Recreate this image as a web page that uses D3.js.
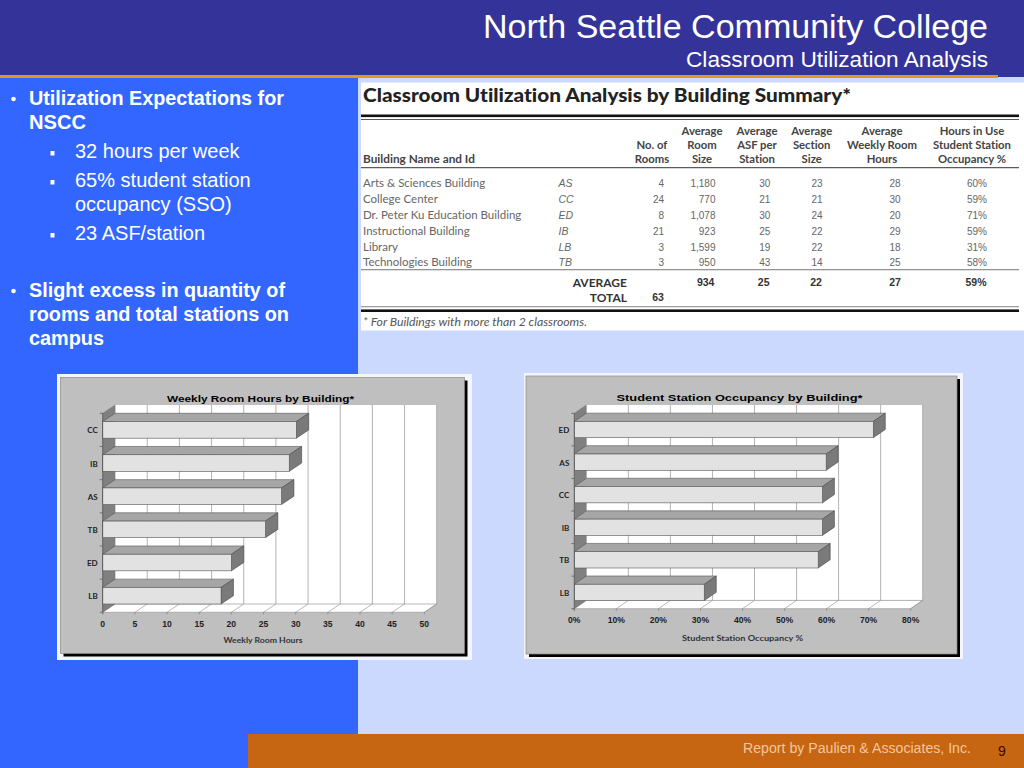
<!DOCTYPE html>
<html>
<head>
<meta charset="utf-8">
<script src="https://cdnjs.cloudflare.com/ajax/libs/d3/7.8.5/d3.min.js"></script>
<style>
html,body{margin:0;padding:0;background:#ccd9ff;overflow:hidden}
svg{display:block}
text{font-family:"Liberation Sans",Arial,sans-serif;font-variant-ligatures:none}
</style>
</head>
<body>
<svg id="c" width="1024" height="768"></svg>
<script>
const hoursCategories = ["CC","IB","AS","TB","ED","LB"];
const hoursValues = [30.1,29,27.8,25.3,20,18.4];
const hoursTicks = [0,5,10,15,20,25,30,35,40,45,50];

const occCategories = ["ED","AS","CC","IB","TB","LB"];
const occValues = [71.1,59.9,59,59,58,30.9];
const occTicks = [0,10,20,30,40,50,60,70,80];

const tableNames = ["Arts & Sciences Building","College Center","Dr. Peter Ku Education Building","Instructional Building","Library","Technologies Building"];
const tableIds = ["AS","CC","ED","IB","LB","TB"];
const tableRooms = ["4","24","8","21","3","3"];
const tableRoomSize = ["1,180","770","1,078","923","1,599","950"];
const tableAsf = ["30","21","30","25","19","43"];
const tableSection = ["23","21","24","22","22","14"];
const tableWeekly = ["28","30","20","29","18","25"];
const tableOcc = ["60%","59%","71%","59%","31%","58%"];
const tableAverages = ["934","25","22","27","59%"];
const tableTotal = "63";

const svg = d3.select("#c");
const rect=(x,y,w,h,f,p=svg)=>p.append("rect").attr("x",x).attr("y",y).attr("width",w).attr("height",h).attr("fill",f);
const txt=(s,x,y,o={},p=svg)=>{
  const t=p.append("text").attr("x",x).attr("y",y).text(s)
    .attr("font-size",o.size||12).attr("fill",o.fill||"#000")
    .attr("font-weight",o.weight||"normal").attr("font-style",o.style||"normal")
    .attr("text-anchor",o.anchor||"start");
  if(o.family) t.style("font-family",o.family);
  if(o.len) t.attr("textLength",o.len).attr("lengthAdjust","spacingAndGlyphs");
  return t;
};

/* page */
rect(0,0,1024,768,"#ccd9ff");
rect(0,0,1024,77,"#333399");
rect(0,75,998,3,"#e8951e");
rect(0,78,358,690,"#3366ff");
rect(248,734,776,34,"#c66512");

txt("North Seattle Community College",988,38,{size:34,fill:"#fff",anchor:"end",len:505});
txt("Classroom Utilization Analysis",988,67,{size:22,fill:"#fff",anchor:"end",len:302});
txt("Report by Paulien & Associates, Inc.",743,753,{size:14,fill:"#f3c79c",len:228});
txt("9",1002,756,{size:14,fill:"#3a0a00",anchor:"middle"});

/* bullets */
const W="#fff";
const boldLines=[["Utilization Expectations for",105,255],["NSCC",129,57],["Slight excess in quantity of",297,256],["rooms and total stations on",321,260],["campus",345,75]];
boldLines.forEach(d=>txt(d[0],29,d[1],{size:20,weight:"bold",fill:W,len:d[2]}));
const subLines=[["32 hours per week",158],["65% student station",187],["occupancy (SSO)",211],["23 ASF/station",240]];
subLines.forEach(d=>txt(d[0],75,d[1],{size:20,fill:W}));
[105,297].forEach(y=>svg.append("circle").attr("cx",13.5).attr("cy",y-6).attr("r",2.3).attr("fill",W));
[158,187,240].forEach(y=>rect(50.5,y-7,4,4.5,W));

/* table */
const serif='Lato,"Noto Sans",sans-serif';
rect(361,82.5,663,248,"#fff");
txt("Classroom Utilization Analysis by Building Summary*",363,102,{size:18,weight:"900",fill:"#222",family:serif,len:488});
const tl=(y,h,c)=>rect(361,y,658,h,c);
tl(114.5,2.6,"#111");tl(119,0.9,"#444");tl(167.2,1,"#333");tl(269.3,0.9,"#666");tl(306.3,0.9,"#777");tl(309.4,2.6,"#111");
const hs={size:11.3,weight:"bold",fill:"#444",family:serif,anchor:"middle"};
[["Average","Room","Size",702],["Average","ASF per","Station",757],["Average","Section","Size",811.7],["Average","Weekly Room","Hours",882],["Hours in Use","Student Station","Occupancy %",972]]
  .forEach(c=>{txt(c[0],c[3],135,hs);txt(c[1],c[3],149,hs);txt(c[2],c[3],162.5,hs);});
txt("No. of",652,149,hs);txt("Rooms",652,162.5,hs);
txt("Building Name and Id",363,162.5,{size:11.8,weight:"bold",fill:"#444",family:serif});
const rowY=[187,203,219,235,251,266];
const grey="#666";
tableNames.forEach((n,i)=>{
  const y=rowY[i];
  txt(n,363,y,{size:11.5,fill:grey,family:serif});
  txt(tableIds[i],558.5,y,{size:10.5,fill:grey,style:"italic"});
  txt(tableRooms[i],664,y,{size:10,fill:grey,anchor:"end"});
  txt(tableRoomSize[i],715.5,y,{size:10,fill:grey,anchor:"end"});
  txt(tableAsf[i],764.7,y,{size:10,fill:grey,anchor:"middle"});
  txt(tableSection[i],817,y,{size:10,fill:grey,anchor:"middle"});
  txt(tableWeekly[i],895,y,{size:10,fill:grey,anchor:"middle"});
  txt(tableOcc[i],977,y,{size:10,fill:grey,anchor:"middle"});
});
const ts={size:12,weight:"bold",fill:"#333",family:serif,anchor:"end"};
txt("AVERAGE",627,286.5,ts);txt("TOTAL",627,301.5,ts);
const bs={size:10.5,weight:"bold",fill:"#333",anchor:"middle"};
txt(tableTotal,658,300.5,bs);
[705.7,763.7,816,895,976].forEach((x,i)=>txt(tableAverages[i],x,286,bs));
txt("* For Buildings with more than 2 classrooms.",363,326,{size:10.8,style:"italic",fill:"#555",family:serif,len:224});

/* 3D bar charts */
function chart(o){
  rect(o.fx,o.fy,o.fw,o.fh,"#f4f6ff");
  rect(o.px+3,o.py+3,o.pw,o.ph,"#000");
  rect(o.px,o.py,o.pw,o.ph,"#bfbfbf").attr("stroke","#8a8a80").attr("stroke-width",0.7);
  txt(o.title,o.tx,o.ty,{size:9,weight:"bold",fill:"#000",anchor:"middle",len:o.tlen});

  const x=d3.scaleLinear().domain(o.domain).range([o.x0,o.x1]);
  const y=d3.scaleBand().domain(o.cats).range([o.yTop,o.yBot]).paddingInner(0.5).paddingOuter(0.25);
  const dx=o.dx,dy=o.dy,g=svg.append("g");
  const poly=(pts,f,s="#555",w=0.6)=>g.append("polygon").attr("points",pts.map(p=>p.join(",")).join(" ")).attr("fill",f).attr("stroke",s).attr("stroke-width",w);

  // back wall, floor, side wall
  rect(o.x0+dx,o.yTop-dy,o.x1-o.x0,o.yBot-o.yTop,"#fff",g);
  poly([[o.x0,o.yBot],[o.x1,o.yBot],[o.x1+dx,o.yBot-dy],[o.x0+dx,o.yBot-dy]],"#fff","#999",0.7);
  o.ticks.forEach(t=>{
    if(t>o.domain[0]) g.append("line").attr("x1",x(t)+dx).attr("x2",x(t)+dx).attr("y1",o.yTop-dy).attr("y2",o.yBot-dy).attr("stroke","#a0a0a0").attr("stroke-width",0.8);
    if(t>o.domain[0]) g.append("line").attr("x1",x(t)).attr("x2",x(t)+dx).attr("y1",o.yBot).attr("y2",o.yBot-dy).attr("stroke","#999").attr("stroke-width",0.7);
  });
  poly([[o.x0,o.yTop],[o.x0+dx,o.yTop-dy],[o.x0+dx,o.yBot-dy],[o.x0,o.yBot]],"#808080","#777",0.4);

  // bars
  o.cats.forEach((c,i)=>{
    const v=o.vals[i],X=x(v),T=y(c),B=T+y.bandwidth();
    poly([[o.x0,T],[X,T],[X+dx,T-dy],[o.x0+dx,T-dy]],"#a6a6a6");
    poly([[X,T],[X+dx,T-dy],[X+dx,B-dy],[X,B]],"#7a7a7a","#444");
    g.append("rect").attr("x",o.x0).attr("y",T).attr("width",X-o.x0).attr("height",B-T).attr("fill","#e2e2e2").attr("stroke","#555").attr("stroke-width",0.6);
    txt(c,o.x0-5,y(c)+y.bandwidth()/2+3.5,{size:8,weight:"bold",fill:"#222",anchor:"end",family:serif},g);
  });

  // axes
  const ya=d3.scaleLinear().domain([0,6]).range([o.yTop,o.yBot]);
  d3.range(0,7).forEach(k=>g.append("line").attr("x1",o.x0-3).attr("x2",o.x0).attr("y1",ya(k)).attr("y2",ya(k)).attr("stroke","#555").attr("stroke-width",0.7));
  g.append("line").attr("x1",o.x0).attr("x2",o.x0).attr("y1",o.yTop).attr("y2",o.yBot+2).attr("stroke","#555").attr("stroke-width",0.7);
  o.ticks.forEach(t=>{
    g.append("line").attr("x1",x(t)).attr("x2",x(t)).attr("y1",o.yBot).attr("y2",o.yBot+2).attr("stroke","#777").attr("stroke-width",0.7);
    txt(o.fmt(t),x(t),o.yBot+14.5,{size:8.6,weight:"bold",fill:"#222",anchor:"middle"},g);
  });
  txt(o.xlabel,o.lx,o.ly,{size:7.8,weight:"bold",fill:"#333",anchor:"middle",family:serif,len:o.llen},g);
}

chart({fx:57,fy:374,fw:415,fh:286,px:60.5,py:377.5,pw:404,ph:276,
  title:"Weekly Room Hours by Building*",tx:260.5,ty:401.5,tlen:187,
  cats:hoursCategories,vals:hoursValues,ticks:hoursTicks,domain:[0,50],fmt:d=>String(d),
  x0:102.7,x1:424.3,yTop:413.3,yBot:612.3,dx:12.4,dy:8.3,
  xlabel:"Weekly Room Hours",lx:263,ly:643,llen:79});

chart({fx:524,fy:373,fw:439,fh:286,px:526,py:376,pw:431,ph:278,
  title:"Student Station Occupancy by Building*",tx:739.5,ty:400.5,tlen:246,
  cats:occCategories,vals:occValues,ticks:occTicks,domain:[0,80],fmt:d=>d+"%",
  x0:574.3,x1:910.7,yTop:413.3,yBot:608.7,dx:12,dy:8.3,
  xlabel:"Student Station Occupancy  %",lx:742.5,ly:641,llen:121});
</script>
</body>
</html>
